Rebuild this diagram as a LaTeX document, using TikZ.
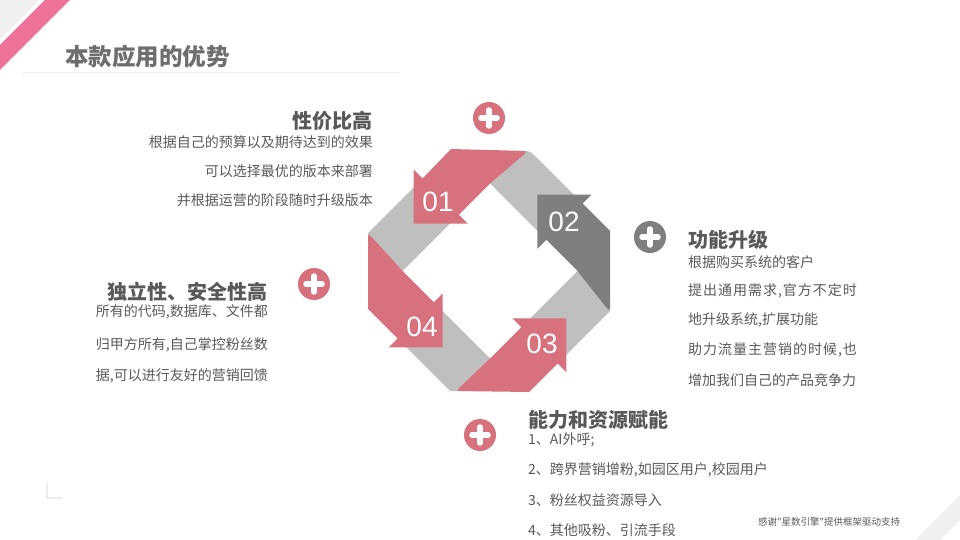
\documentclass[tikz,border=0pt]{standalone}
\usepackage{fontspec}
\setmainfont{Liberation Sans}
\newfontfamily\cjk{Noto Sans CJK SC}
\newfontfamily\cjkwide[LetterSpace=7]{Noto Sans CJK SC}

\definecolor{ribbonpink}{HTML}{D6717D}
\definecolor{ribbongray}{HTML}{BFBFBF}
\definecolor{ribbondark}{HTML}{7F7F7F}
\definecolor{textgray}{HTML}{595959}
\definecolor{titlegray}{HTML}{6E6E6E}
\definecolor{stripepink}{HTML}{EF7399}
\definecolor{stripegray}{HTML}{F0F0F0}
\definecolor{rulegray}{HTML}{ECECEC}

\tikzset{
  titletext/.style={inner sep=0pt, text=titlegray, font=\cjk\bfseries\fontsize{23.5}{26}\selectfont},
  headtext/.style={inner sep=0pt, text=textgray, font=\cjk\bfseries\fontsize{20}{22}\selectfont},
  bodytext/.style={inner sep=0pt, text=textgray, font=\cjk\fontsize{14}{16}\selectfont},
  widetext/.style={inner sep=0pt, text=textgray, font=\cjkwide\fontsize{14}{16}\selectfont},
  notetext/.style={inner sep=0pt, text=textgray, font=\cjk\fontsize{9.5}{11}\selectfont},
  numtext/.style={inner sep=0pt, text=white, font=\fontsize{28}{30}\selectfont},
  plusdot/.style={circle, minimum size=32pt, inner sep=0pt, fill=ribbonpink},
  plusbar/.style={white, line width=5.5pt, line cap=round},
}

\newcommand{\plussign}[1]{%
  \draw[plusbar] ([xshift=-8pt]#1.center) -- ([xshift=8pt]#1.center);
  \draw[plusbar] ([yshift=-8pt]#1.center) -- ([yshift=8pt]#1.center);}

\begin{document}
\begin{tikzpicture}[x=1pt,y=-1pt]
\useasboundingbox (0,0) rectangle (960,540);

% corner stripes
\fill[stripegray] (0,0) -- (40,0) -- (0,40) -- cycle;
\fill[stripepink] (45,0) -- (70,0) -- (0,70) -- (0,45) -- cycle;
\fill[stripegray] (960,495) -- (960,520) -- (940,540) -- (915,540) -- cycle;

% title
\node[titletext, anchor=west] (title) at (65,57) {本款应用的优势};
\draw[rulegray, line width=0.8pt] (23,72) -- (400,72);
\draw[rulegray, line width=1.2pt] (47,483) -- (47,498) -- (62,498);

% ribbon
\begin{scope}[shift={(490,271)}]
% grey parts
\fill[ribbongray] (-31.25,-56.25) -- (-67.5,-92.5) -- (-122,-38) -- (-122,0) -- (-87.5,0) -- cycle;
\fill[ribbongray] (0,-87.5) -- (33,-120) .. controls (40,-120) .. (47.9,-112.1) -- (92.5,-67.5) -- (56.25,-31.25) -- cycle;
\fill[ribbongray] (87.5,0) -- (120,30) -- (120,40) -- (67.5,92.5) -- (31.25,56.25) -- cycle;
\fill[ribbongray] (-56.25,31.25) -- (-92.5,67.5) -- (-40,120) -- (-30,120) -- (0,87.5) -- cycle;
% arrows
\fill[ribbonpink] (-31.25,-56.25) -- (0,-87.5) -- (30.4,-113.5) .. controls (38,-120) .. (30,-120.2)
  -- (-39,-122) -- (-67.5,-92.5) -- (-76.4,-101.4) -- (-76.4,-47.4) -- (-22.4,-47.4) -- cycle;
\fill[ribbondark] (47.4,-76.4) -- (101.4,-76.4) -- (92.5,-67.5) -- (120,-40) -- (120,33)
  .. controls (120,41) .. (113.5,33) -- (87.5,0) -- (56.25,-31.25) -- (47.4,-22.4) -- cycle;
\fill[ribbonpink] (76.4,47.4) -- (22.4,47.4) -- (31.25,56.25) -- (0,87.5) -- (-27.2,113.5)
  .. controls (-34,120) .. (-27,120.1) -- (39,121) -- (67.5,92.5) -- (76.4,101.4) -- cycle;
\fill[ribbonpink] (-47.4,76.4) -- (-47.4,22.4) -- (-56.25,31.25) -- (-87.5,0) -- (-115.1,-30.4)
  .. controls (-122,-38) .. (-122,-30) -- (-122,38) -- (-92.5,67.5) -- (-101.4,76.4) -- cycle;
\end{scope}

\node[numtext] (n01) at (438,202) {01};
\node[numtext] (n02) at (564,222) {02};
\node[numtext] (n03) at (542,344) {03};
\node[numtext] (n04) at (422,327) {04};

% plus marks
\node[plusdot] (plusa) at (489,118) {};
\plussign{plusa}
\node[plusdot, fill=ribbondark] (plusb) at (650,237) {};
\plussign{plusb}
\node[plusdot] (plusc) at (314,284) {};
\plussign{plusc}
\node[plusdot] (plusd) at (480,435) {};
\plussign{plusd}

% texts top left
\node[headtext, anchor=east] (heada) at (373,121) {性价比高};
\node[bodytext, anchor=east] (a1) at (373,142) {根据自己的预算以及期待达到的效果};
\node[bodytext, anchor=east] (a2) at (373,171) {可以选择最优的版本来部署};
\node[bodytext, anchor=east] (a3) at (373,200) {并根据运营的阶段随时升级版本};

% texts right
\node[headtext, anchor=west] (headb) at (688,240) {功能升级};
\node[bodytext, anchor=west] (b1) at (688,262) {根据购买系统的客户};
\node[widetext, anchor=west] (b2) at (688,291) {提出通用需求,官方不定时};
\node[bodytext, anchor=west] (b3) at (688,320) {地升级系统,扩展功能};
\node[widetext, anchor=west] (b4) at (688,350) {助力流量主营销的时候,也};
\node[bodytext, anchor=west] (b5) at (688,380) {增加我们自己的产品竞争力};

% texts left
\node[headtext, anchor=east] (headc) at (268,292) {独立性、安全性高};
\node[bodytext, anchor=east] (c1) at (268,312) {所有的代码,数据库、文件都};
\node[bodytext, anchor=east] (c2) at (268,345) {归甲方所有,自己掌控粉丝数};
\node[bodytext, anchor=east] (c3) at (268,376) {据,可以进行友好的营销回馈};

% texts bottom
\node[headtext, anchor=west] (headd) at (528,420) {能力和资源赋能};
\node[bodytext, anchor=west] (d1) at (528,440) {1、AI外呼;};
\node[bodytext, anchor=west] (d2) at (528,470) {2、跨界营销增粉,如园区用户,校园用户};
\node[bodytext, anchor=west] (d3) at (528,500) {3、粉丝权益资源导入};
\node[bodytext, anchor=west] (d4) at (528,530) {4、其他吸粉、引流手段};

\node[notetext] (note) at (829,522) {感谢"星数引擎"提供框架驱动支持};
\end{tikzpicture}
\end{document}
